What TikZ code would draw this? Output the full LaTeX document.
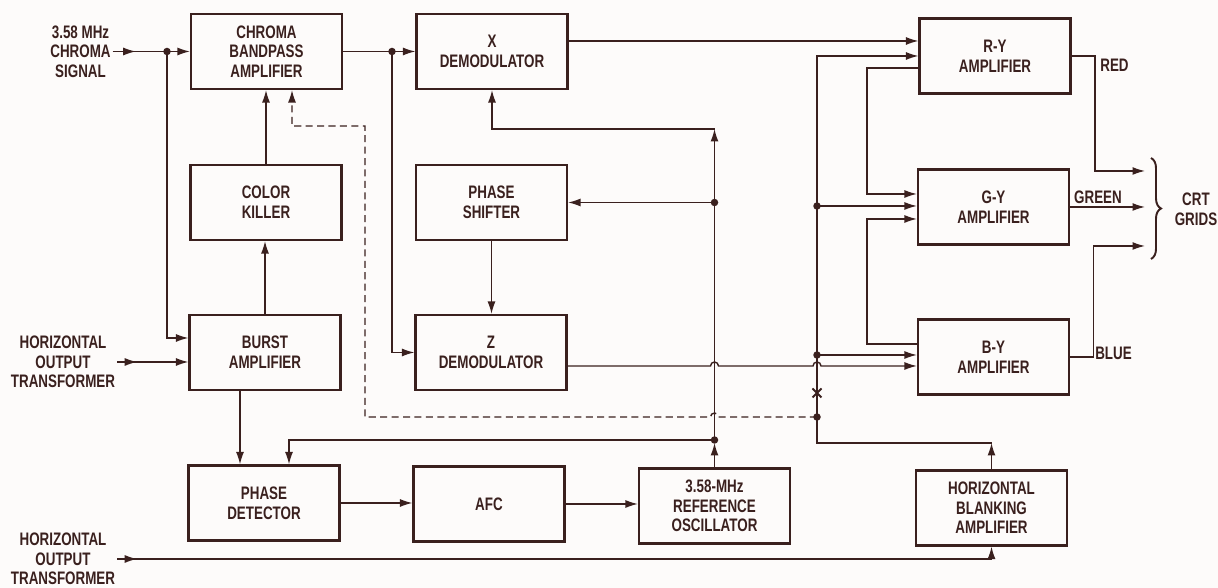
\documentclass[tikz,border=0pt]{standalone}
\usepackage{fontspec}
\setmainfont{Liberation Sans}[FakeStretch=0.74]
\usetikzlibrary{arrows.meta,decorations.markings,decorations.pathreplacing}
\definecolor{ink}{RGB}{58,32,30}
\definecolor{paper}{RGB}{253,251,250}

\begin{document}
\begin{tikzpicture}[>={Latex[length=2.5mm,width=1.6mm]}, color=ink,
  font=\fontsize{10.3}{11.2}\selectfont\bfseries,
  blk/.style={draw, line width=1.2pt, minimum width=3.02cm, minimum height=1.5cm, inner sep=1pt, align=center},
  lbl/.style={align=center, inner sep=1pt},
  wire/.style={line width=0.8pt},
  dashwire/.style={line width=0.8pt, dash pattern=on 4pt off 2.5pt},
  midarr/.style={postaction={decorate}, decoration={markings, mark=at position #1 with {\arrow{>}}}}]
  % page
  \fill[paper] (0,0) rectangle (24.36,11.76);
  \useasboundingbox (0,0) rectangle (24.36,11.76);

  % left column
  \node[blk] (chroma) at (5.33,10.73) {CHROMA\\BANDPASS\\AMPLIFIER};
  \node[blk] (killer) at (5.32,7.71) {COLOR\\KILLER};
  \node[blk] (burst) at (5.30,4.71) {BURST\\AMPLIFIER};
  \node[blk] (phdet) at (5.28,1.70) {PHASE\\DETECTOR};
  % middle column
  \node[blk] (xdem) at (9.84,10.73) {X\\DEMODULATOR};
  \node[blk] (shifter) at (9.83,7.71) {PHASE\\SHIFTER};
  \node[blk] (zdem) at (9.82,4.71) {Z\\DEMODULATOR};
  \node[blk] (afc) at (9.78,1.68) {AFC};
  \node[blk] (osc) at (14.29,1.64) {3.58-MHz\\REFERENCE\\OSCILLATOR};
  % right column
  \node[blk] (ry) at (19.90,10.64) {R-Y\\AMPLIFIER};
  \node[blk] (gy) at (19.87,7.62) {G-Y\\AMPLIFIER};
  \node[blk] (by) at (19.87,4.62) {B-Y\\AMPLIFIER};
  \node[blk] (hblank) at (19.83,1.60) {HORIZONTAL\\BLANKING\\AMPLIFIER};

  % outside labels
  \node[lbl] (chrin) at (1.61,10.73) {3.58 MHz\\CHROMA\\SIGNAL};
  \node[lbl] (hot1) at (1.26,4.52) {HORIZONTAL\\OUTPUT\\TRANSFORMER};
  \node[lbl] (hot2) at (1.26,0.58) {HORIZONTAL\\OUTPUT\\TRANSFORMER};
  \node[lbl] (red) at (22.29,10.46) {RED};
  \node[lbl] (green) at (21.96,7.82) {GREEN};
  \node[lbl] (blue) at (22.27,4.70) {BLUE};
  \node[lbl] (crt) at (23.92,7.57) {CRT\\GRIDS};

  % junctions and free ends
  \coordinate (jin) at (3.34,10.73);
  \coordinate (jx) at (7.84,10.73);
  \coordinate (jo) at (14.29,2.96);
  \coordinate (js) at (14.29,7.71);
  \coordinate (jt) at (14.29,9.18);
  \coordinate (jb) at (16.34,2.90);
  \coordinate (jd) at (16.34,3.42);
  \coordinate (xm) at (16.34,3.90);
  \coordinate (jby) at (16.34,4.66);
  \coordinate (jgy) at (16.34,7.64);
  \coordinate (gred) at (22.90,8.34);
  \coordinate (ggreen) at (22.90,7.62);
  \coordinate (gblue) at (22.90,6.84);

  % chroma input and burst path
  \draw[wire, midarr=0.46cm] (chrin.east) -- (jin);
  \draw[wire,->] (jin) -- (chroma.west);
  \draw[wire,->] (jin) |- ([yshift=0.29cm]burst.west);
  \draw[wire,->,midarr=0.4cm] (hot1.east) -- (hot1.east -| burst.west);
  \draw[wire,->] (burst.north) -- (burst.north |- killer.south);
  \draw[wire,->] (killer.north) -- (killer.north |- chroma.south);
  \draw[wire,->] ([xshift=-0.5cm]burst.south) -- ([xshift=-0.5cm]burst.south |- phdet.north);

  % demodulators
  \draw[wire] (chroma.east) -- (jx);
  \draw[wire,->] (jx) -- (xdem.west);
  \draw[wire,->] (jx) |- (zdem.west);
  \draw[wire,->] (shifter.south) -- (shifter.south |- zdem.north);
  \draw[wire,->] ([yshift=0.21cm]xdem.east) -- ([yshift=0.21cm]xdem.east -| ry.west);
  \draw[wire,->] ([yshift=-0.27cm]zdem.east) -- (14.21,4.44) arc[start angle=180, end angle=0, radius=0.08]
    -- (16.26,4.44) arc[start angle=180, end angle=0, radius=0.08] -- ([yshift=-0.27cm]zdem.east -| by.west);

  % AFC loop and oscillator feed
  \draw[wire,->] (phdet.east) -- (phdet.east -| afc.west);
  \draw[wire,->] (afc.east) -- (afc.east -| osc.west);
  \draw[wire,->,shorten >=0.06cm] (osc.north) -- (jo);
  \draw[wire,->] (jo) -| ([xshift=0.5cm]phdet.north);
  \draw[wire] (jo) -- (js);
  \draw[wire,->] (js) -- (shifter.east);
  \draw[wire,->] (js) -- (jt);
  \draw[wire,->] (jt) -| (xdem.south);

  % color killer control (dashed)
  \draw[dashwire,->] (jd) -- (14.37,3.42) arc[start angle=0, end angle=180, radius=0.08]
    -- (7.30,3.42) -- (7.30,9.24) -| ([xshift=0.51cm]chroma.south);

  % blanking feed to the matrix
  \draw[wire,->] (hblank.north) -- (hblank.north |- jb);
  \draw[wire,->] (hblank.north |- jb) -- (jb) |- (ry.west);
  \draw[wire,->] (jby) -- (jby -| by.west);
  \draw[wire,->] (jgy) -- (jgy -| gy.west);
  \draw[line width=1.1pt] (xm) +(-0.09,-0.09) -- +(0.09,0.09) +(-0.09,0.09) -- +(0.09,-0.09);
  \draw[wire,->,midarr=0.4cm] (hot2.east) -| (hblank.south);

  % cross feeds into G-Y
  \draw[wire,->] ([yshift=-0.24cm]ry.west) -- ++(-1.03,0) |- ([yshift=0.26cm]gy.west);
  \draw[wire,->] ([yshift=0.26cm]by.west) -- ++(-1.0,0) |- ([yshift=-0.24cm]gy.west);

  % outputs to the CRT
  \draw[wire,->] (ry.east) -- ++(0.47,0) |- (gred);
  \draw[wire,->] (gy.east) -- (gy.east -| ggreen);
  \draw[wire,->] (by.east) -- ++(0.47,0) |- (gblue);
  \draw[line width=1.1pt, decorate, decoration={brace, amplitude=0.2cm}] (23.02,8.60) -- (23.02,6.58);

  % dots
  \foreach \j in {jin,jx,jo,js,jd,jby,jgy} \fill (\j) circle (0.075);
\end{tikzpicture}
\end{document}
